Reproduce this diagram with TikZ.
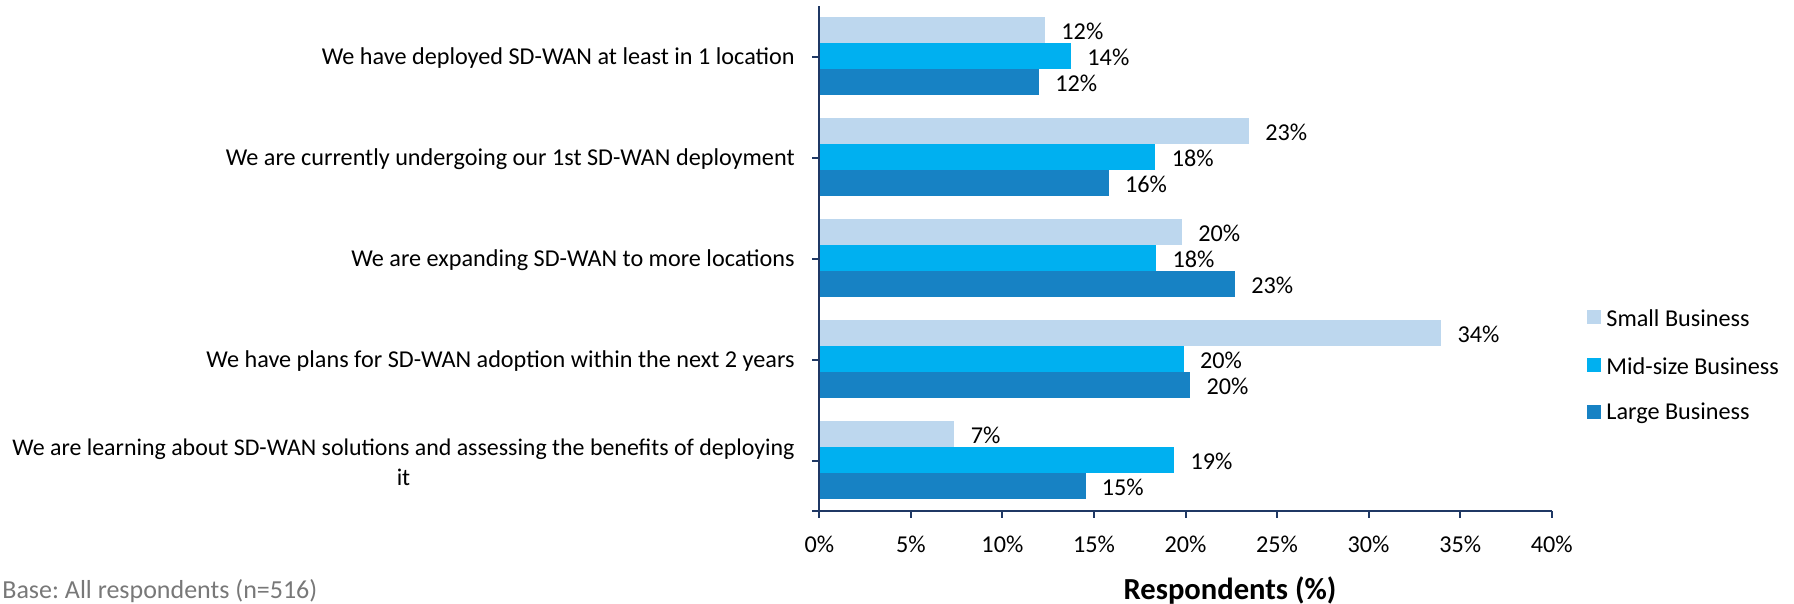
\documentclass[tikz,border=0pt]{standalone}
\usepackage{fontspec}
\setmainfont{Carlito}
\frenchspacing
\definecolor{cSmall}{RGB}{189,215,238}
\definecolor{cMid}{RGB}{0,176,240}
\definecolor{cLarge}{RGB}{23,130,196}
\definecolor{axisc}{RGB}{31,56,100}
\definecolor{basegray}{RGB}{120,120,120}
\begin{document}
\begin{tikzpicture}[x=0.5pt,y=-0.5pt,
  lbl/.style={font=\fontsize{12.1}{15.2}\selectfont, inner sep=0pt, text=black},
  cat/.style={lbl, anchor=east, align=center},
  val/.style={lbl, anchor=west},
  ticklbl/.style={lbl, anchor=center},
  axisline/.style={draw=axisc, line width=1pt},
  legsq/.style={inner sep=0pt, minimum size=7pt},
]
\useasboundingbox (0,0) rectangle (1794,604);
% bars and value labels
\foreach \g/\a/\la/\b/\lb/\c/\lc in {0/12.33/12/13.75/14/12.0/12, 1/23.47/23/18.36/18/15.8/16, 2/19.8/20/18.4/18/22.7/23, 3/33.97/34/19.9/20/20.26/20, 4/7.38/7/19.38/19/14.54/15} {
  \pgfmathsetmacro{\gy}{17+101*\g}
  \fill[cSmall] (819.3,\gy) rectangle ({819.3+18.31*\a},{\gy+26});
  \fill[cMid] (819.3,{\gy+26}) rectangle ({819.3+18.31*\b},{\gy+52});
  \fill[cLarge] (819.3,{\gy+52}) rectangle ({819.3+18.31*\c},{\gy+78});
  \node[val] (v\g a) at ({819.3+18.31*\a+16},{\gy+14}) {\la\%};
  \node[val] (v\g b) at ({819.3+18.31*\b+16},{\gy+40}) {\lb\%};
  \node[val] (v\g c) at ({819.3+18.31*\c+16},{\gy+66}) {\lc\%};
}
% category labels
\node[cat] (cat0) at (795,58) {We have deployed SD-WAN at least in 1 location};
\node[cat] (cat1) at (795,159) {We are currently undergoing our 1st SD-WAN deployment};
\node[cat] (cat2) at (795,260) {We are expanding SD-WAN to more locations};
\node[cat] (cat3) at (795,361) {We have plans for SD-WAN adoption within the next 2 years};
\node[cat, font=\fontsize{11.95}{15.2}\selectfont] (cat4) at (795,462) {We are learning about SD-WAN solutions and assessing the benefits of deploying\\it};
% axes
\coordinate (ytop) at (819.3,6.5);
\coordinate (orig) at (819.3,511);
\coordinate (xend) at (1551.7,511);
\draw[axisline] (ytop) -- (orig) -- (xend);
\foreach \g in {0,...,4} {
  \coordinate (yt\g) at (819.3,{57+101*\g});
  \draw[axisline] (yt\g) -- ++(-7,0);
}
\draw[axisline] (orig) -- ++(-7,0);
\foreach \k in {0,...,8} {
  \coordinate (xt\k) at ({819.3+91.55*\k},511);
  \draw[axisline] (xt\k) -- ++(0,7);
  \pgfmathtruncatemacro{\pc}{5*\k}
  \node[ticklbl] (tl\k) at ({819.3+91.55*\k},544) {\pc\%};
}
% legend
\node[legsq, fill=cSmall] (ls1) at (1594,317.5) {};
\node[legsq, fill=cMid] (ls2) at (1594,365) {};
\node[legsq, fill=cLarge] (ls3) at (1594,412) {};
\node[lbl, anchor=west] (lt1) at (1606,318.5) {Small Business};
\node[lbl, anchor=west] (lt2) at (1606,366) {Mid-size Business};
\node[lbl, anchor=west] (lt3) at (1606,413) {Large Business};
% titles
\node[lbl, font=\fontsize{15.3}{17}\selectfont\bfseries, anchor=base] (xtitle) at (1230,599) {Respondents (\%)};
\node[lbl, font=\fontsize{13}{15}\selectfont, anchor=base west, text=basegray] (base) at (2,598) {Base: All respondents (n=516)};
\end{tikzpicture}
\end{document}
